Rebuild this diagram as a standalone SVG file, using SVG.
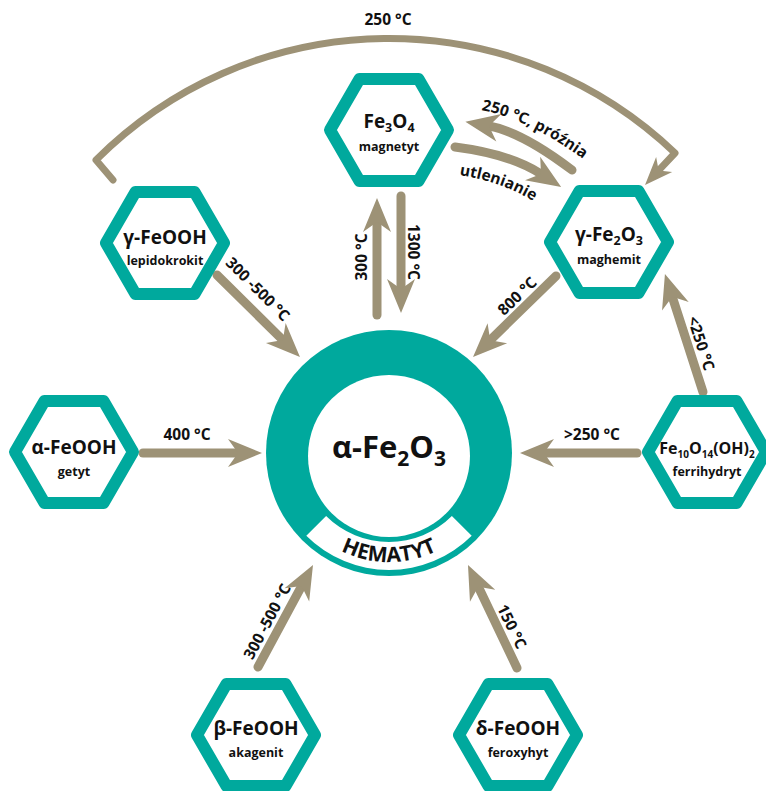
<svg xmlns="http://www.w3.org/2000/svg" width="766" height="791" viewBox="0 0 766 791">
<style>
.hex{fill:#fff;stroke:#00a99d;stroke-width:12;stroke-linejoin:round}
.t{font-family:"Open Sans","Liberation Sans",sans-serif;font-weight:700;fill:#111}
.f{font-size:19px}
.n{font-size:12.5px}
.l{font-size:15.5px}
.a{fill:none;stroke:#9d9276;stroke-width:9;stroke-linecap:round}
.arc{fill:none;stroke:#9d9276;stroke-width:7;stroke-linecap:round;stroke-linejoin:round}
</style>
<defs>
<path id="hexp" d="M-59,0 L-29.5,-51.1 L29.5,-51.1 L59,0 L29.5,51.1 L-29.5,51.1 Z"/>
<marker id="ah" markerUnits="userSpaceOnUse" viewBox="0 0 36 30" markerWidth="36" markerHeight="30" refX="10" refY="15" orient="auto" overflow="visible"><path d="M0,1 L34,15 L0,29 L10,15 Z" fill="#9d9276"/></marker>
<marker id="ahs" markerUnits="userSpaceOnUse" viewBox="0 0 30 24" markerWidth="30" markerHeight="24" refX="8" refY="12" orient="auto" overflow="visible"><path d="M0,1 L28,12 L0,23 L8,12 Z" fill="#9d9276"/></marker>
<path id="hemPath" d="M305.5,523.1 A109,109 0 0 0 472.5,523.1" fill="none"/>
<path id="prozPath" d="M468,108 Q525,114 594,167" fill="none"/>
<path id="utlPath" d="M452,174 Q508,181 548,211" fill="none"/>
</defs>

<g id="connectors">
<path class="arc" d="M113,180 L96,160 A414,414 0 0 1 675,153 L658.7,170.4" marker-end="url(#ahs)"/>
<path class="a" d="M217,275 L282.9,340.1" marker-end="url(#ah)"/>
<path class="a" d="M556,276 L490.2,340.2" marker-end="url(#ah)"/>
<path class="a" d="M377,315 L377,222" marker-end="url(#ah)"/>
<path class="a" d="M401,196 L401,289" marker-end="url(#ah)"/>
<path class="a" d="M143,453 L238,453" marker-end="url(#ah)"/>
<path class="a" d="M637,453 L544,453" marker-end="url(#ah)"/>
<path class="a" d="M703,392 L672.3,296.8" marker-end="url(#ah)"/>
<path class="a" d="M258,667 L301.6,586.1" marker-end="url(#ah)"/>
<path class="a" d="M517,668 L478.3,586.7" marker-end="url(#ah)"/>
<path class="a" d="M572,170 Q522,132 489,126" marker-end="url(#ah)"/>
<path class="a" d="M455,147 Q510,154 541,174" marker-end="url(#ah)"/>

<text class="t l" x="388" y="25" text-anchor="middle">250 °C</text>
<text class="t l" transform="translate(254,293) rotate(45)" text-anchor="middle">300 -500 °C</text>
<text class="t l" transform="translate(367,257) rotate(-90)" text-anchor="middle">300 °C</text>
<text class="t l" transform="translate(408,252) rotate(90)" text-anchor="middle">1300 °C</text>
<text class="t l" transform="translate(521,300) rotate(-44)" text-anchor="middle">800 °C</text>
<text class="t l" transform="translate(696,345) rotate(72)" text-anchor="middle">&lt;250 °C</text>
<text class="t l" x="187" y="440" text-anchor="middle">400 °C</text>
<text class="t l" x="592" y="440" text-anchor="middle">&gt;250 °C</text>
<text class="t l" transform="translate(272,624) rotate(-62)" text-anchor="middle">300 -500 °C</text>
<text class="t l" transform="translate(507,629) rotate(64)" text-anchor="middle">150 °C</text>
<text class="t l"><textPath href="#prozPath" startOffset="50%" text-anchor="middle">250 °C, próźnia</textPath></text>
<text class="t l"><textPath href="#utlPath" startOffset="45%" text-anchor="middle">utlenianie</textPath></text>
</g>

<g id="hematyt">
<circle cx="389" cy="453" r="123" fill="#00a99d"/>
<circle cx="389" cy="456" r="81" fill="#fff"/>
<path d="M306.3,535.7 A117,117 0 0 0 471.7,535.7 L451.9,515.9 A89,89 0 0 1 326.1,515.9 Z" fill="#fff"/>
<text class="t" font-size="21"><textPath href="#hemPath" startOffset="50%" text-anchor="middle">HEMATYT</textPath></text>
<text class="t" x="389" y="458" text-anchor="middle" font-size="31">α-Fe<tspan font-size="21" dy="8">2</tspan><tspan dy="-8">O</tspan><tspan font-size="21" dy="8">3</tspan></text>
</g>

<g id="magnetyt">
<use href="#hexp" class="hex" x="389" y="130"/>
<text class="t f" x="389" y="128" text-anchor="middle">Fe<tspan font-size="12.5" dy="4">3</tspan><tspan dy="-4">O</tspan><tspan font-size="12.5" dy="4">4</tspan></text>
<text class="t n" x="389" y="151" text-anchor="middle">magnetyt</text>
</g>

<g id="lepidokrokit">
<use href="#hexp" class="hex" x="165" y="243"/>
<text class="t f" x="165" y="244" text-anchor="middle">γ-FeOOH</text>
<text class="t n" x="165" y="265" text-anchor="middle">lepidokrokit</text>
</g>

<g id="maghemit">
<use href="#hexp" class="hex" x="609" y="242"/>
<text class="t f" x="609" y="241" text-anchor="middle">γ-Fe<tspan font-size="12.5" dy="4">2</tspan><tspan dy="-4">O</tspan><tspan font-size="12.5" dy="4">3</tspan></text>
<text class="t n" x="609" y="264" text-anchor="middle">maghemit</text>
</g>

<g id="getyt">
<use href="#hexp" class="hex" x="74" y="452"/>
<text class="t f" x="74" y="454" text-anchor="middle">α-FeOOH</text>
<text class="t n" x="74" y="476" text-anchor="middle">getyt</text>
</g>

<g id="ferrihydryt">
<use href="#hexp" class="hex" x="707" y="452"/>
<text class="t" x="707" y="454" text-anchor="middle" font-size="16">Fe<tspan font-size="10" dy="4">10</tspan><tspan dy="-4">O</tspan><tspan font-size="10" dy="4">14</tspan><tspan dy="-4">(OH)</tspan><tspan font-size="10" dy="4">2</tspan></text>
<text class="t n" x="707" y="476" text-anchor="middle">ferrihydryt</text>
</g>

<g id="akagenit">
<use href="#hexp" class="hex" x="256" y="735"/>
<text class="t f" x="256" y="735" text-anchor="middle">β-FeOOH</text>
<text class="t n" x="256" y="757" text-anchor="middle">akagenit</text>
</g>

<g id="feroxyhyt">
<use href="#hexp" class="hex" x="518" y="735"/>
<text class="t f" x="518" y="735" text-anchor="middle">δ-FeOOH</text>
<text class="t n" x="518" y="757" text-anchor="middle">feroxyhyt</text>
</g>
</svg>
